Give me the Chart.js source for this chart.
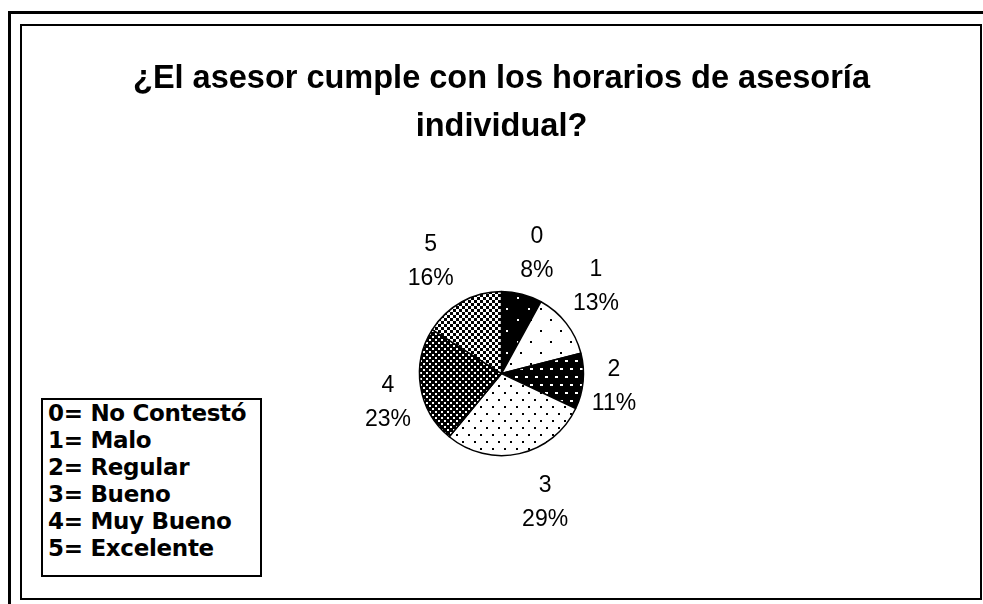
<!DOCTYPE html>
<html>
<head>
<meta charset="utf-8">
<script src="https://cdn.jsdelivr.net/npm/chart.js@4.4.0/dist/chart.umd.min.js"></script>
<style>
  html, body { margin: 0; padding: 0; background: #fff; }
  body { width: 983px; height: 604px; position: relative; overflow: hidden; }
  .outer { position: absolute; left: 8px; top: 11px; width: 1100px; height: 700px;
           border-left: 3px solid #000; border-top: 3px solid #000; }
  .inner { position: absolute; left: 20px; top: 24px; width: 958px; height: 572px;
           border: 2px solid #000; }
  #chart { position: absolute; left: 0; top: 0; }
  .legend { position: absolute; left: 41px; top: 398px; width: 212px; height: 175px;
            border: 2px solid #000; background: #fff; padding-left: 5px;
            font-family: "DejaVu Sans", sans-serif; font-weight: bold;
            font-size: 23px; line-height: 27px; padding-top: 0px; letter-spacing: -0.3px; }
</style>
</head>
<body>
<div class="outer"></div>
<div class="inner"></div>
<canvas id="chart" width="983" height="604"></canvas>
<div class="legend" id="legend"></div>
<script>
// data
const categories = ['0', '1', '2', '3', '4', '5'];
const percents = [8, 13, 11, 29, 23, 16];
const legendLines = ['0= No Contestó', '1= Malo', '2= Regular', '3= Bueno', '4= Muy Bueno', '5= Excelente'];
const titleLines = ['¿El asesor cumple con los horarios de asesoría', 'individual?'];

// small nudges so labels sit where the original put them
const labelNudge = [[5, -2], [-2, -12], [-9, 2], [17, 10], [7, 10], [-12, -5]];

// hatch fills, like the old office b/w patterns
function makePattern(w, h, bg, fg, dots) {
  const c = document.createElement('canvas');
  c.width = w; c.height = h;
  const g = c.getContext('2d');
  g.fillStyle = bg;
  g.fillRect(0, 0, w, h);
  g.fillStyle = fg;
  dots.forEach(d => g.fillRect(d[0], d[1], d[2], d[3]));
  return g.createPattern(c, 'repeat');
}
const fills = [
  makePattern(22, 22, '#000', '#fff', [[0, 0, 2, 2], [11, 11, 2, 2]]),
  makePattern(20, 22, '#fff', '#000', [[0, 0, 2, 2], [10, 11, 2, 2]]),
  makePattern(10, 16, '#000', '#fff', [[0, 0, 3, 2], [5, 8, 3, 2]]),
  makePattern(12, 14, '#fff', '#000', [[0, 0, 2, 2], [6, 7, 2, 2]]),
  makePattern(6, 6, '#000', '#fff', [[0, 0, 2, 2], [3, 3, 2, 2]]),
  makePattern(6, 6, '#fff', '#000', [[0, 0, 3, 3], [3, 3, 3, 3]])
];

document.getElementById('legend').innerHTML = legendLines.map(t => '<div>' + t + '</div>').join('');

const outsideLabels = {
  id: 'outsideLabels',
  afterDatasetsDraw(chart) {
    const ctx = chart.ctx;
    const meta = chart.getDatasetMeta(0);
    ctx.save();
    ctx.font = '23px "Liberation Sans", Arial, sans-serif';
    ctx.fillStyle = '#000';
    ctx.textAlign = 'center';
    ctx.textBaseline = 'middle';
    meta.data.forEach((arc, i) => {
      const mid = (arc.startAngle + arc.endAngle) / 2;
      const d = arc.outerRadius + 40;
      const x = arc.x + Math.cos(mid) * d + labelNudge[i][0];
      const y = arc.y + Math.sin(mid) * d + labelNudge[i][1];
      ctx.fillText(categories[i], x, y - 17);
      ctx.fillText(percents[i] + '%', x, y + 17);
    });
    ctx.restore();
  }
};

new Chart(document.getElementById('chart'), {
  type: 'pie',
  data: {
    labels: categories,
    datasets: [{
      data: percents,
      backgroundColor: fills,
      borderColor: '#000',
      borderWidth: 1.5,
      hoverOffset: 0
    }]
  },
  options: {
    responsive: false,
    animation: false,
    events: [],
    radius: 82,
    layout: { padding: { left: 20, right: 0, top: 0, bottom: 8 } },
    plugins: {
      legend: { display: false },
      tooltip: { enabled: false },
      title: {
        display: true,
        text: titleLines,
        color: '#000',
        font: { family: '"Liberation Sans", Arial, sans-serif', size: 32.5, weight: 'bold', lineHeight: 1.48 },
        padding: { top: 55, bottom: 0 }
      }
    }
  },
  plugins: [outsideLabels]
});
</script>
</body>
</html>
